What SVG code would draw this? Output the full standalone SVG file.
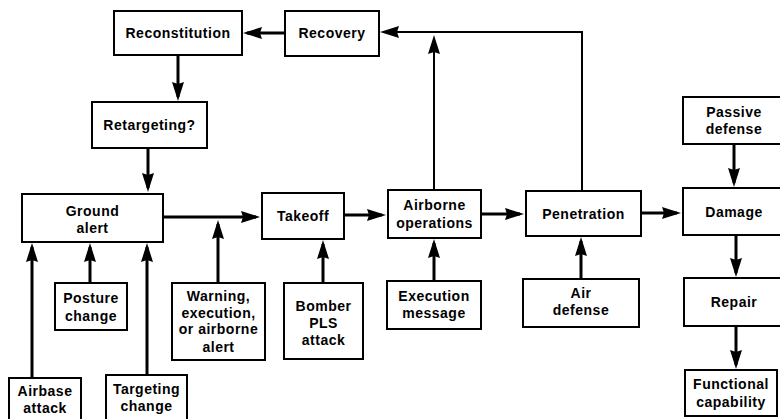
<svg xmlns="http://www.w3.org/2000/svg" width="780" height="419" viewBox="0 0 780 419">
<defs>
<style>
.box{fill:#fff;stroke:#000;stroke-width:2}
text{font-family:"Liberation Sans",Arial,sans-serif;font-size:14px;font-weight:bold;letter-spacing:0.5px;text-anchor:middle;fill:#000}
.c{fill:none;stroke:#000;stroke-width:3;marker-end:url(#ah)}
.t{stroke-width:2}
</style>
<marker id="ah" markerUnits="userSpaceOnUse" markerWidth="20" markerHeight="14" refX="15" refY="6.5" orient="auto">
<path d="M0,0.5 L19,6.5 L0,12.5 L2,6.5 z" fill="#000"/>
</marker>
</defs>
<rect width="780" height="419" fill="#fff"/>
<g id="connectors">
<path class="c" d="M285,33 H247"/>
<path class="c" d="M178,55 V97"/>
<path class="c" d="M148,148 V188"/>
<path class="c" d="M163,217 H256"/>
<path class="c" d="M344,215 H382"/>
<path class="c" d="M481,214 H520"/>
<path class="c" d="M641,213 H677"/>
<path class="c" d="M734,144 V183"/>
<path class="c" d="M736,235 V273"/>
<path class="c" d="M736,326 V365"/>
<path class="c" d="M434,281 V243"/>
<path class="c" d="M581,279 V241"/>
<path class="c" d="M218,283 V224"/>
<path class="c" d="M323,283 V244"/>
<path class="c" d="M90,283 V247"/>
<path class="c" d="M32,378 V247"/>
<path class="c" d="M147,375 V247"/>
<path class="c t" d="M434,190 V39"/>
<path class="c t" d="M582,191 V32 H384"/>
</g>
<g id="reconstitution"><rect class="box" x="114" y="11" width="128" height="44"/><text x="178" y="38">Reconstitution</text></g>
<g id="recovery"><rect class="box" x="285" y="11" width="94" height="45"/><text x="332" y="38">Recovery</text></g>
<g id="retargeting"><rect class="box" x="92" y="102" width="115" height="46"/><text x="149.5" y="130">Retargeting?</text></g>
<g id="ground-alert"><rect class="box" x="22" y="194" width="141" height="48"/><text x="92.5" y="216">Ground</text><text x="92.5" y="233">alert</text></g>
<g id="takeoff"><rect class="box" x="262" y="193" width="82" height="46"/><text x="303" y="221">Takeoff</text></g>
<g id="airborne-operations"><rect class="box" x="388" y="190" width="93" height="48"/><text x="434.5" y="210">Airborne</text><text x="434.5" y="228">operations</text></g>
<g id="penetration"><rect class="box" x="526" y="191" width="115" height="45"/><text x="583.5" y="219">Penetration</text></g>
<g id="passive-defense"><rect class="box" x="683" y="97" width="102" height="47"/><text x="734" y="117">Passive</text><text x="734" y="134">defense</text></g>
<g id="damage"><rect class="box" x="683" y="188" width="102" height="47"/><text x="734" y="217">Damage</text></g>
<g id="repair"><rect class="box" x="684" y="278" width="101" height="48"/><text x="734" y="307">Repair</text></g>
<g id="functional-capability"><rect class="box" x="685" y="370" width="92" height="46"/><text x="731" y="389">Functional</text><text x="731" y="407">capability</text></g>
<g id="execution-message"><rect class="box" x="387" y="281" width="94" height="48"/><text x="434" y="301">Execution</text><text x="434" y="318">message</text></g>
<g id="air-defense"><rect class="box" x="523" y="279" width="116" height="48"/><text x="581" y="298">Air</text><text x="581" y="315">defense</text></g>
<g id="warning"><rect class="box" x="172" y="283" width="93" height="77"/><text x="218.5" y="301">Warning,</text><text x="218.5" y="318">execution,</text><text x="218.5" y="334">or airborne</text><text x="218.5" y="352">alert</text></g>
<g id="bomber-pls-attack"><rect class="box" x="284" y="283" width="79" height="76"/><text x="323.5" y="311">Bomber</text><text x="323.5" y="328">PLS</text><text x="323.5" y="345">attack</text></g>
<g id="posture-change"><rect class="box" x="55" y="283" width="72" height="47"/><text x="91" y="303">Posture</text><text x="91" y="321">change</text></g>
<g id="airbase-attack"><rect class="box" x="9" y="378" width="72" height="52"/><text x="45" y="396">Airbase</text><text x="45" y="413">attack</text></g>
<g id="targeting-change"><rect class="box" x="106" y="375" width="81" height="55"/><text x="146.5" y="394">Targeting</text><text x="146.5" y="411">change</text></g>
</svg>
